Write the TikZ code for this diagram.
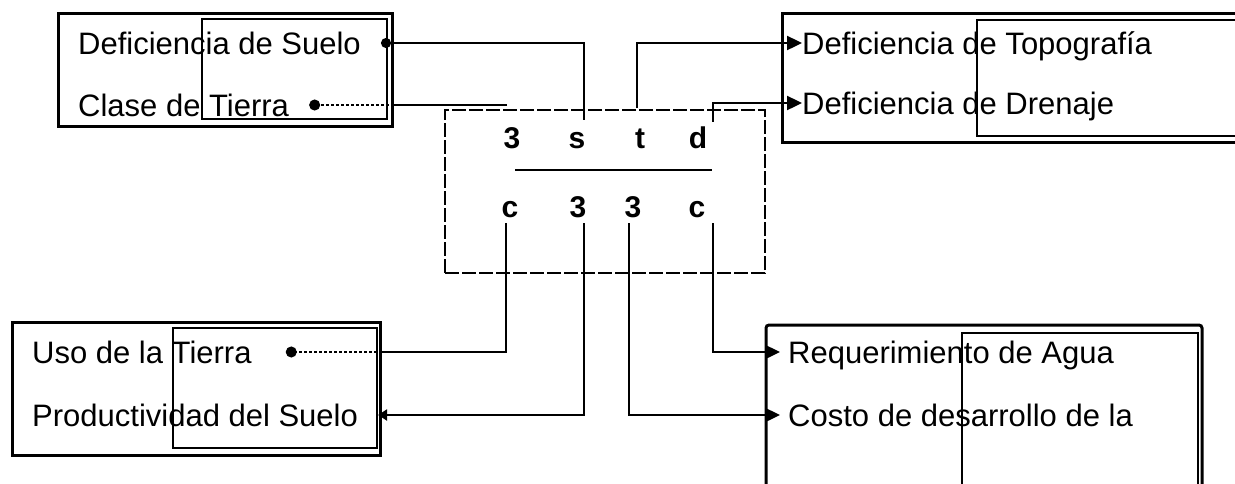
\documentclass[tikz,border=0pt]{standalone}
\usepackage{fontspec}
\setmainfont{Liberation Sans}
\usetikzlibrary{arrows.meta, positioning}

\begin{document}
\begin{tikzpicture}[x=1pt, y=-1pt,
    outerbox/.style={draw, line width=3pt, inner sep=0pt},
    innerbox/.style={draw, line width=2.4pt, inner sep=0pt},
    codebox/.style={draw, line width=2.6pt, dash pattern=on 14pt off 3pt, inner sep=0pt},
    txt/.style={anchor=west, inner sep=0pt, text height=22pt, text depth=0pt, font=\fontsize{31}{36}\selectfont},
    code/.style={anchor=base, inner sep=0pt, text height=21pt, text depth=0pt, font=\fontsize{30}{36}\selectfont\bfseries},
    line/.style={draw, line width=2.4pt},
    toarrow/.style={line, -{Triangle[length=15pt, width=14pt]}},
    toback/.style={line, -{Triangle[length=9pt, width=11pt]}},
    todot/.style={line, -{Circle[length=10pt]}},
    lead/.style={draw, line width=1.4pt, densely dashed, -{Circle[length=11pt]}}]

    \useasboundingbox (0,0) rectangle (1235,483);

    % frames
    \node [outerbox, minimum width=334pt, minimum height=113pt] (tlout) at (225,69.5) {};
    \node [innerbox, minimum width=185pt, minimum height=100pt] (tlin) at (294.5,69) {};
    \node [outerbox, minimum width=458pt, minimum height=129pt] (trout) at (1011,77.5) {};
    \node [innerbox, minimum width=263pt, minimum height=116pt] (trin) at (1108.5,78) {};
    \node [outerbox, minimum width=368pt, minimum height=133pt] (blout) at (196,388.5) {};
    \node [innerbox, minimum width=204pt, minimum height=120pt] (blin) at (275,388) {};
    \node [outerbox, rounded corners=3pt, minimum width=436pt, minimum height=170pt] (brout) at (984,410) {};
    \node [innerbox, minimum width=236pt, minimum height=162pt] (brin) at (1080,414) {};
    \node [codebox, minimum width=320pt, minimum height=163pt] (clave) at (605,191.5) {};

    % texts
    \node [txt] (suelo) at (78,43) {Deficiencia de Suelo};
    \node [txt, below=62pt of suelo.west, anchor=west] (clase) {Clase de Tierra};
    \node [txt] (topo) at (802,43) {Deficiencia de Topografía};
    \node [txt, below=60pt of topo.west, anchor=west] (drenaje) {Deficiencia de Drenaje};
    \node [txt] (uso) at (32,352) {Uso de la Tierra};
    \node [txt, below=63pt of uso.west, anchor=west] (prod) {Productividad del Suelo};
    \node [txt] (req) at (788,352) {Requerimiento de Agua};
    \node [txt, below=63pt of req.west, anchor=west] (costo) {Costo de desarrollo de la};

    % symbol
    \node [code] (t3) at (512,148) {3};
    \node [code] (ts) at (577,148) {s};
    \node [code] (tt) at (640,148) {t};
    \node [code] (td) at (698,148) {d};
    \node [code] (bc) at (510,217) {c};
    \node [code] (b3a) at (578,217) {3};
    \node [code] (b3b) at (633,217) {3};
    \node [code] (bc2) at (697,217) {c};
    \draw [line width=2.6pt] (515,170) -- (712,170);

    % connectors
    \path [todot] ([xshift=7pt,yshift=7pt]ts.north) |- ([xshift=20pt]suelo.east);
    \path [toarrow] ([xshift=-3pt,yshift=19pt]tt.north) |- (topo.west);
    \path [toarrow] ([xshift=15pt,yshift=5pt]td.north) |- (drenaje.west);
    \coordinate (claseEnd) at (507,105);
    \path [line] (claseEnd) -- (claseEnd -| tlout.east);
    \path [lead] (claseEnd -| tlout.east) -- ([xshift=20pt]clase.east);

    \path [line] ([xshift=-4pt,yshift=-6pt]bc.south) |- (uso.east -| blout.east);
    \path [lead] (uso.east -| blout.east) -- ([xshift=34pt]uso.east);
    \path [toback] ([xshift=6pt,yshift=-6pt]b3a.south) |- ([xshift=20pt]prod.east);
    \path [toarrow] ([xshift=-4pt,yshift=-6pt]b3b.south) |- ([xshift=-8pt]costo.west);
    \path [toarrow] ([xshift=16pt,yshift=-6pt]bc2.south) |- ([xshift=-8pt]req.west);
\end{tikzpicture}
\end{document}
